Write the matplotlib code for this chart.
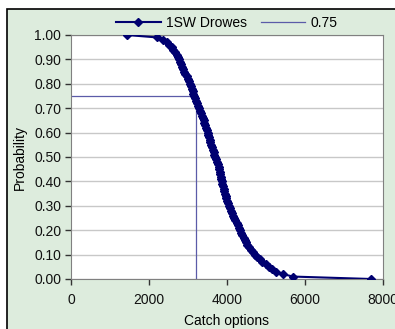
import matplotlib

matplotlib.use("Agg")
import matplotlib.pyplot as plt
from matplotlib.patches import Rectangle

plt.rcParams["font.family"] = ["Liberation Sans", "DejaVu Sans"]

# 1SW catch options vs probability
catch = [1430, 2210, 2367, 2450, 2520, 2580, 2624, 2670, 2710, 2740, 2765, 2790,
         2810, 2840, 2870, 2900, 2935, 2965, 2990, 3020, 3050, 3075, 3100, 3125,
         3140, 3165, 3190, 3215, 3240, 3265, 3290, 3315, 3335, 3360, 3380, 3400,
         3420, 3440, 3460, 3480, 3500, 3520, 3540, 3560, 3575, 3595, 3615, 3635,
         3655, 3675, 3695, 3730, 3745, 3765, 3785, 3800, 3815, 3830, 3845, 3855,
         3865, 3880, 3895, 3915, 3930, 3945, 3965, 3985, 4000, 4025, 4050, 4075,
         4095, 4120, 4150, 4175, 4210, 4245, 4275, 4305, 4335, 4365, 4395, 4425,
         4455, 4490, 4525, 4570, 4610, 4660, 4710, 4780, 4840, 4910, 4990, 5080,
         5160, 5260, 5440, 5690, 7700]
prob = [1.00, 0.99, 0.98, 0.97, 0.96, 0.95, 0.94, 0.93, 0.92, 0.91, 0.90, 0.89,
        0.88, 0.87, 0.86, 0.85, 0.84, 0.83, 0.82, 0.81, 0.80, 0.79, 0.78, 0.77,
        0.76, 0.75, 0.74, 0.73, 0.72, 0.71, 0.70, 0.69, 0.68, 0.67, 0.66, 0.65,
        0.64, 0.63, 0.62, 0.61, 0.60, 0.59, 0.58, 0.57, 0.56, 0.55, 0.54, 0.53,
        0.52, 0.51, 0.50, 0.49, 0.48, 0.47, 0.46, 0.45, 0.44, 0.43, 0.42, 0.41,
        0.40, 0.39, 0.38, 0.37, 0.36, 0.35, 0.34, 0.33, 0.32, 0.31, 0.30, 0.29,
        0.28, 0.27, 0.26, 0.25, 0.24, 0.23, 0.22, 0.21, 0.20, 0.19, 0.18, 0.17,
        0.16, 0.15, 0.14, 0.13, 0.12, 0.11, 0.10, 0.09, 0.08, 0.07, 0.06, 0.05,
        0.04, 0.03, 0.02, 0.01, 0.00]

# 0.75 reference line
ref_x = [0, 3200, 3200]
ref_y = [0.75, 0.75, 0.00]

xticks = [0, 2000, 4000, 6000, 8000]
yticks = [i / 10 for i in range(11)]

NAVY = "#000070"
GREEN = "#ddecdd"
FS = 10

fig = plt.figure(figsize=(3.95, 3.29), dpi=100, facecolor="white")
fig.patches.append(Rectangle((7 / 395, -0.2), 1.2, 1.2 - 9 / 329, transform=fig.transFigure,
                             facecolor=GREEN, edgecolor="black", linewidth=1.2, zorder=-5))

ax = fig.add_axes([71 / 395, 1 - 279 / 329, 312 / 395, 244 / 329])
ax.set_facecolor("white")
ax.plot(catch, prob, color=NAVY, marker="D", markersize=3.6, linewidth=1.5,
        label="1SW Drowes", zorder=3)
ax.plot(ref_x, ref_y, color="#5b5ba8", linewidth=0.9, label="0.75", zorder=2)

ax.set_xlim(0, 8000)
ax.set_ylim(0, 1)
ax.set_xticks(xticks)
ax.set_yticks(yticks)
ax.set_yticklabels([f"{v:.2f}" for v in yticks])
ax.grid(axis="y", color="#c8c8c8", linewidth=1)
ax.set_axisbelow(True)
for s in ax.spines.values():
    s.set_color("#808080")
ax.tick_params(direction="out", length=4, width=1, color="#333333",
               labelsize=FS, colors="#111111", pad=3)
ax.tick_params(axis="x", pad=6)
ax.set_xlabel("Catch options", fontsize=FS, labelpad=5)
ax.set_ylabel("Probability", fontsize=FS, labelpad=5)

ax.legend(loc="lower center", bbox_to_anchor=(0.5, 1.01), ncol=2, frameon=False,
          fontsize=FS, handlelength=3.2, columnspacing=1.0, borderaxespad=0.0,
          handletextpad=0.4, borderpad=0.2)

fig.savefig("out.png", dpi=100, facecolor=fig.get_facecolor())
